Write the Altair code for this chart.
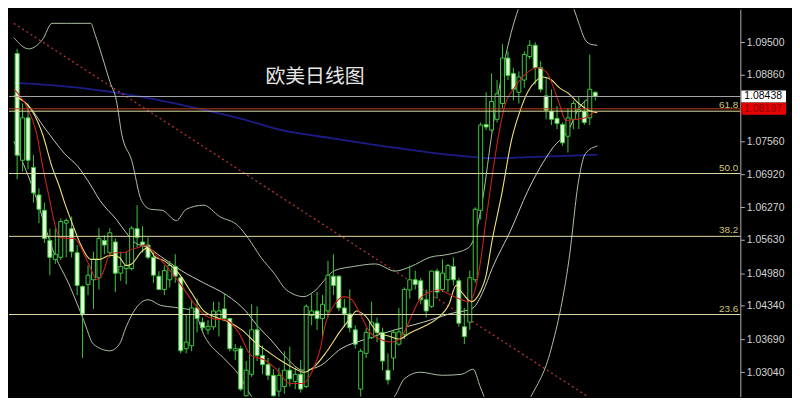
import altair as alt
import pandas as pd

# ---------------- data (EUR/USD daily) ----------------
open_ = [1.0928,1.0719,1.0802,1.0705,1.0651,1.0621,1.0562,1.0525,1.0529,1.0596,
         1.0585,1.0538,1.0472,1.0476,1.0485,1.0489,1.0562,1.0538,1.0559,1.0498,
         1.0507,1.0507,1.0585,1.0559,1.0553,1.0529,1.0492,1.0466,1.0485,1.0511,
         1.0489,1.0350,1.0356,1.0430,1.0402,1.0387,1.0393,1.0409,1.0428,1.0409,
         1.0346,1.0350,1.0258,1.0300,1.0387,1.0337,1.0319,1.0298,1.0267,1.0276,
         1.0308,1.0286,1.0300,1.0276,1.0415,1.0424,1.0409,1.0424,1.0492,1.0492,
         1.0430,1.0418,1.0387,1.0271,1.0341,1.0372,1.0400,1.0382,1.0308,1.0332,
         1.0359,1.0378,1.0465,1.0485,1.0483,1.0446,1.0433,1.0502,1.0466,1.0485,
         1.0511,1.0483,1.0393,1.0402,1.0485,1.0621,1.0789,1.0778,1.0799,1.0830,
         1.0919,1.0889,1.0852,1.0876,1.0922,1.0944,1.0900,1.0845,1.0815,1.0801,
         1.0789,1.0766,1.0799,1.0815,1.0815,1.0802,1.0852]
high = [1.0937,1.0830,1.0830,1.0729,1.0664,1.0636,1.0585,1.0586,1.0605,1.0605,
        1.0609,1.0553,1.0474,1.0513,1.0540,1.0586,1.0572,1.0586,1.0566,1.0540,
        1.0540,1.0590,1.0631,1.0590,1.0568,1.0540,1.0502,1.0513,1.0522,1.0535,
        1.0492,1.0418,1.0446,1.0448,1.0411,1.0406,1.0442,1.0442,1.0457,1.0411,
        1.0359,1.0356,1.0326,1.0437,1.0433,1.0356,1.0332,1.0310,1.0313,1.0345,
        1.0354,1.0313,1.0328,1.0437,1.0457,1.0461,1.0455,1.0522,1.0535,1.0494,
        1.0448,1.0466,1.0396,1.0350,1.0391,1.0442,1.0411,1.0391,1.0341,1.0387,
        1.0430,1.0470,1.0513,1.0503,1.0489,1.0466,1.0503,1.0507,1.0525,1.0516,
        1.0529,1.0489,1.0430,1.0503,1.0627,1.0793,1.0852,1.0889,1.0876,1.0946,
        1.0932,1.0900,1.0893,1.0932,1.0954,1.0950,1.0913,1.0880,1.0858,1.0825,
        1.0793,1.0821,1.0836,1.0843,1.0836,1.0926,1.0854]
low = [1.0682,1.0697,1.0701,1.0636,1.0596,1.0557,1.0494,1.0516,1.0524,1.0529,
       1.0529,1.0455,1.0332,1.0455,1.0428,1.0466,1.0535,1.0529,1.0461,1.0483,
       1.0476,1.0503,1.0548,1.0538,1.0525,1.0479,1.0465,1.0455,1.0470,1.0479,
       1.0341,1.0341,1.0345,1.0382,1.0383,1.0378,1.0387,1.0374,1.0406,1.0345,
       1.0328,1.0267,1.0249,1.0295,1.0326,1.0300,1.0289,1.0249,1.0254,1.0262,
       1.0276,1.0271,1.0264,1.0273,1.0396,1.0387,1.0374,1.0411,1.0455,1.0424,
       1.0393,1.0382,1.0350,1.0256,1.0332,1.0369,1.0363,1.0308,1.0280,1.0308,
       1.0356,1.0369,1.0448,1.0466,1.0437,1.0411,1.0430,1.0448,1.0461,1.0461,
       1.0474,1.0393,1.0359,1.0387,1.0479,1.0603,1.0778,1.0775,1.0793,1.0821,
       1.0876,1.0836,1.0830,1.0861,1.0917,1.0867,1.0852,1.0799,1.0788,1.0780,
       1.0747,1.0734,1.0780,1.0780,1.0788,1.0788,1.0836]
close = [1.0729,1.0802,1.0719,1.0655,1.0623,1.0566,1.0529,1.0535,1.0599,1.0601,
         1.0540,1.0474,1.0418,1.0494,1.0525,1.0566,1.0553,1.0577,1.0498,1.0511,
         1.0513,1.0586,1.0568,1.0553,1.0529,1.0494,1.0466,1.0503,1.0513,1.0492,
         1.0346,1.0363,1.0430,1.0409,1.0391,1.0394,1.0424,1.0424,1.0409,1.0350,
         1.0350,1.0271,1.0308,1.0387,1.0337,1.0319,1.0298,1.0258,1.0298,1.0308,
         1.0291,1.0300,1.0271,1.0433,1.0424,1.0409,1.0437,1.0494,1.0474,1.0430,
         1.0418,1.0391,1.0359,1.0345,1.0382,1.0402,1.0382,1.0326,1.0289,1.0382,
         1.0383,1.0466,1.0485,1.0476,1.0446,1.0424,1.0502,1.0461,1.0498,1.0513,
         1.0485,1.0400,1.0374,1.0489,1.0623,1.0788,1.0784,1.0834,1.0849,1.0919,
         1.0885,1.0858,1.0882,1.0926,1.0944,1.0900,1.0858,1.0817,1.0799,1.0791,
         1.0753,1.0802,1.0830,1.0819,1.0793,1.0858,1.0844]

# Bollinger upper / middle / lower (bar index, price)
ub_x = [-0.6,2.1,4.7,6.4,9.1,11.7,13.5,14.3,15.6,17.0,18.2,19.2,21.0,22.8,24.5,26.6,29.2,31.0,34.2,37.1,
        40.6,42.4,44.7,47.1,49.4,52.6,54.3,58.2,61.7,65.7,69.3,72.2,75.7,79.2,82.8,84.2,85.4,87.1,89.2,90.6,
        91.9,94.2,97.7,100.3,102.1,103.0,104.2,105.2,106.4]
ub_y = [1.0959,1.0937,1.0956,1.0987,1.0987,1.0987,1.0987,1.0965,1.0922,1.0873,1.0836,1.0769,1.0719,1.0640,1.0623,1.0621,1.0601,1.0623,1.0631,1.0609,
        1.0590,1.0566,1.0529,1.0498,1.0465,1.0452,1.0461,1.0503,1.0511,1.0516,1.0502,1.0511,1.0529,1.0535,1.0548,1.0581,1.0645,1.0775,1.0904,1.0969,
        1.1015,1.1070,1.1088,1.1061,1.1015,1.0987,1.0954,1.0946,1.0944]
mb_x = [-0.6,1.7,5.2,8.7,11.2,13.5,15.2,18.2,20.0,21.7,24.0,26.3,27.5,30.1,34.2,38.4,41.9,44.2,46.4,49.4,
        52.4,55.6,59.4,64.0,69.3,74.5,79.2,83.6,85.4,87.1,90.6,93.6,98.2,101.2,103.0,104.7,106.4]
mb_y = [1.0845,1.0830,1.0780,1.0732,1.0706,1.0670,1.0640,1.0603,1.0577,1.0557,1.0548,1.0531,1.0522,1.0503,1.0479,1.0455,1.0424,1.0393,1.0369,1.0332,
        1.0308,1.0317,1.0350,1.0369,1.0387,1.0402,1.0418,1.0430,1.0461,1.0507,1.0584,1.0658,1.0743,1.0780,1.0821,1.0839,1.0847]
lb_x = [-0.6,2.9,7.0,9.4,12.2,14.0,17.0,18.7,20.0,21.7,24.0,26.3,28.9,32.4,34.2,38.4,40.6,42.4,45.0,52.0,
        59.1,66.1,69.3,71.0,73.9,78.0,81.5,83.6,84.9,86.3,88.9,92.4,94.2,97.7,101.2,103.0,104.2,106.4]
lb_y = [1.0756,1.0664,1.0531,1.0479,1.0406,1.0359,1.0346,1.0358,1.0393,1.0428,1.0446,1.0435,1.0431,1.0424,1.0378,1.0326,1.0300,1.0267,1.0221,1.0175,
        1.0203,1.0230,1.0258,1.0291,1.0304,1.0298,1.0300,1.0310,1.0276,1.0239,1.0203,1.0221,1.0256,1.0341,1.0525,1.0682,1.0732,1.0747]

# fast (red) and slower (yellow) moving averages
ma5_x = [-0.6,1.7,3.5,4.7,5.9,7.0,7.8,9.4,10.5,11.7,13.1,14.7,15.7,17.0,18.2,19.6,20.8,22.2,23.5,25.2,
         27.0,28.4,29.8,32.2,34.5,35.9,38.4,40.6,42.9,45.4,47.7,50.0,52.4,54.2,55.6,56.4,58.2,60.0,61.4,62.9,
         64.7,66.4,68.7,70.5,72.2,73.9,75.7,77.5,79.2,81.0,82.8,83.6,84.9,85.9,87.1,88.4,89.4,91.2,93.6,95.4,
         97.1,99.4,100.6,102.4,104.2,105.9]
ma5_y = [1.0858,1.0825,1.0775,1.0706,1.0645,1.0590,1.0568,1.0566,1.0566,1.0548,1.0516,1.0485,1.0498,1.0535,1.0538,1.0538,1.0544,1.0548,1.0553,1.0537,
         1.0516,1.0498,1.0479,1.0442,1.0415,1.0409,1.0406,1.0382,1.0337,1.0328,1.0308,1.0282,1.0282,1.0308,1.0350,1.0393,1.0437,1.0452,1.0446,1.0418,
         1.0382,1.0369,1.0363,1.0374,1.0411,1.0448,1.0461,1.0465,1.0457,1.0448,1.0442,1.0452,1.0516,1.0596,1.0688,1.0775,1.0825,1.0861,1.0891,1.0900,
         1.0891,1.0830,1.0797,1.0799,1.0802,1.0815]
ma10_x = [-0.6,2.9,4.7,6.4,7.7,8.7,10.3,11.7,13.5,15.2,17.0,18.7,20.0,21.0,22.8,24.0,25.2,27.0,29.6,31.9,
          34.2,36.6,38.9,41.2,43.6,45.9,48.2,50.6,52.6,54.3,56.8,59.1,61.2,62.2,63.8,66.1,68.4,70.0,72.2,74.5,
          77.0,79.2,80.5,81.5,83.3,84.9,85.9,87.1,88.9,90.6,92.4,93.6,95.0,96.4,98.0,99.4,101.2,103.0,105.2,106.4]
ma10_y = [1.0845,1.0813,1.0769,1.0706,1.0669,1.0636,1.0590,1.0553,1.0525,1.0525,1.0533,1.0529,1.0513,1.0516,1.0540,1.0548,1.0531,1.0522,1.0498,1.0461,
          1.0424,1.0411,1.0402,1.0387,1.0363,1.0345,1.0328,1.0313,1.0304,1.0313,1.0345,1.0382,1.0411,1.0424,1.0415,1.0382,1.0374,1.0369,1.0382,1.0393,
          1.0409,1.0437,1.0474,1.0461,1.0442,1.0461,1.0489,1.0562,1.0655,1.0756,1.0821,1.0852,1.0873,1.0882,1.0876,1.0861,1.0849,1.0830,1.0815,1.0812]

# long moving average (blue)
mal_x = [-0.6,11.2,22.8,34.5,41.5,48.5,57.8,69.6,81.9,87.1,93.6,99.4,106.4]
mal_y = [1.0871,1.0861,1.0843,1.0817,1.0799,1.0778,1.0762,1.0743,1.0727,1.0723,1.0725,1.0727,1.0730]

# dashed down-trend line
trend_x = [-0.6, 104.7]
trend_y = [1.0987, 1.0256]

fib_levels = [1.0815, 1.0693, 1.0570, 1.0417]
fib_labels = ["61.8", "50.0", "38.2", "23.6"]

price_last = 1.08438
price_red = 1.08197
tick_values = [1.0950, 1.0886, 1.0756, 1.0692, 1.0627, 1.0563, 1.0498, 1.0434, 1.0369, 1.0304]
chart_title = "欧美日线图"

# ---------------- chart ----------------
W, H = 736, 390
xs = alt.Scale(domain=[-0.58, 131.7], nice=False, zero=False)
ys = alt.Scale(domain=[1.0256, 1.10146], nice=False, zero=False)
yaxis = alt.Axis(orient="right", values=tick_values, format=".5f", title=None,
                 labelColor="#d4d4d4", labelFont="Liberation Sans", labelFontSize=10.5,
                 tickColor="#b0b0b0", tickSize=4, domainColor="#b0b0b0", grid=False,
                 labelPadding=2, labelOverlap=False, labelFlush=False)


def X(f="i:Q"):
    return alt.X(f, scale=xs, axis=None)


def Y(f):
    return alt.Y(f, scale=ys, axis=yaxis)


cdf = pd.DataFrame({"i": list(range(len(close))), "open": open_, "high": high,
                    "low": low, "close": close})
GREEN = "#3cc83c"

wicks = alt.Chart(cdf).mark_rule(color=GREEN, strokeWidth=1, clip=True).encode(
    x=X(), y=Y("low:Q"), y2="high:Q")
bodies = alt.Chart(cdf).mark_bar(size=4, stroke=GREEN, strokeWidth=1, clip=True).encode(
    x=X(), y=Y("open:Q"), y2="close:Q",
    fill=alt.condition("datum.close > datum.open", alt.value("#000000"), alt.value("#e4ffd8")))


def line(xv, yv, color, width=1.0, dash=None, interp="linear"):
    df = pd.DataFrame({"i": xv, "p": yv})
    kw = dict(color=color, strokeWidth=width, clip=True, interpolate=interp)
    if dash:
        kw["strokeDash"] = dash
    return alt.Chart(df).mark_line(**kw).encode(x=X(), y=Y("p:Q"))


def hrule(vals, color, width=1.0):
    return alt.Chart(pd.DataFrame({"p": vals})).mark_rule(color=color, strokeWidth=width).encode(
        y=Y("p:Q"))


fib_rules = hrule(fib_levels, "#e0dca0")
last_rule = hrule([price_last], "#a8a8a8")
red_rule = hrule([price_red], "#b8401c")
fib_text = alt.Chart(pd.DataFrame({"p": fib_levels, "t": fib_labels})).mark_text(
    align="right", baseline="bottom", dy=-1, color="#cfc47a", fontSize=10,
    font="Liberation Sans").encode(x=alt.value(W - 2), y=Y("p:Q"), text="t:N")

trend = line(trend_x, trend_y, "#b83434", 1.3, dash=[2, 3])
ub = line(ub_x, ub_y, "#aac2a2", 1, interp="monotone")
mb = line(mb_x, mb_y, "#c4ccbc", 1, interp="monotone")
lb = line(lb_x, lb_y, "#aac2a2", 1, interp="monotone")
ma5 = line(ma5_x, ma5_y, "#c82020", 1.1, interp="monotone")
ma10 = line(ma10_x, ma10_y, "#ece27a", 1.1, interp="monotone")
mal = line(mal_x, mal_y, "#1c1c86", 1.8, interp="monotone")

tag_w = alt.Chart(pd.DataFrame({"p": [price_last], "t": ["1.08438"]}))
tag_last = tag_w.mark_rule(color="#ffffff", strokeWidth=12, strokeCap="butt").encode(
    x=alt.value(W + 1), x2=alt.value(W + 46), y=Y("p:Q"))
tag_last_t = tag_w.mark_text(align="left", baseline="middle", color="#000000", fontSize=10.5,
                             font="Liberation Sans").encode(
    x=alt.value(W + 4), y=Y("p:Q"), text="t:N")
tag_r = alt.Chart(pd.DataFrame({"p": [price_red], "t": ["1.08197"]}))
tag_red = tag_r.mark_rule(color="#e80000", strokeWidth=12, strokeCap="butt").encode(
    x=alt.value(W + 1), x2=alt.value(W + 46), y=Y("p:Q"))
tag_red_t = tag_r.mark_text(align="left", baseline="middle", color="#8a0000", fontSize=10.5,
                            font="Liberation Sans").encode(
    x=alt.value(W + 4), y=Y("p:Q"), text="t:N")

title = alt.Chart(pd.DataFrame({"t": [chart_title]})).mark_text(
    font="Noto Sans CJK SC", fontSize=20, color="#e6e6e6", align="center",
    baseline="middle").encode(x=alt.value(308), y=alt.value(68), text="t:N")

chart = alt.layer(
    mal, trend, ub, mb, lb,
    wicks, bodies,
    ma10, ma5,
    last_rule, red_rule, fib_rules, fib_text,
    tag_last, tag_last_t, tag_red, tag_red_t,
    title,
).properties(
    width=W, height=H, background="#000000",
    padding={"left": 0, "top": 0, "right": 0, "bottom": 0},
).configure_view(strokeWidth=0)

chart.save("out.html", embed_options={"renderer": "svg", "actions": False})
